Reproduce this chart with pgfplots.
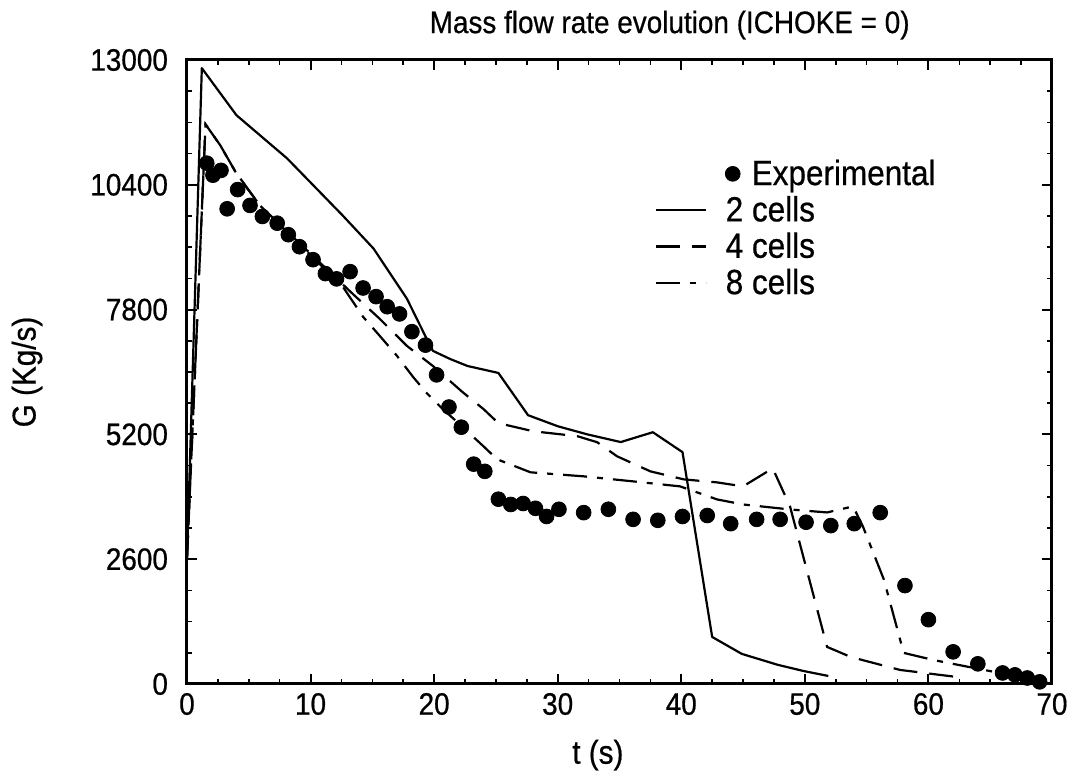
\documentclass[border=0pt]{standalone}
\usepackage{fontspec}
\setmainfont{Liberation Sans}[FakeStretch=0.9,FakeBold=0.6]
\usepackage{pgfplots}
\pgfplotsset{compat=1.18}
\begin{document}
\begin{tikzpicture}
\path (-93.5pt,-46pt) rectangle (444.5pt,342pt);
\begin{axis}[
  at={(0,0)}, anchor=south west,
  scale only axis, width=432.5pt, height=312pt,
  xmin=0, xmax=70, ymin=0, ymax=13000,
  xtick={0,10,...,70}, minor x tick num=3,
  ytick={0,2600,5200,7800,10400,13000},
  yticklabels={0,2600,5200,7800,10400,13000},
  scaled y ticks=false,
  minor y tick num=3,
  tick align=inside,
  major tick length=5pt, minor tick length=2.5pt,
  every tick/.style={line width=1pt,black},
  every minor tick/.style={line width=0.8pt,black},
  axis line style={line width=1.5pt},
  /pgf/number format/assume math mode=true,
  tick label style={font=\fontsize{15.5}{18}\selectfont},
  yticklabel style={xshift=-6pt},
  xticklabel style={yshift=-1pt},
  label style={font=\fontsize{16.5}{19}\selectfont},
  xlabel={t (s)},
  ylabel={G (Kg/s)},
  xlabel style={at={(axis description cs:0.475,-0.114)}, anchor=center},
  ylabel style={at={(axis description cs:-0.185,0.5)}, anchor=center},
  legend style={draw=none, fill=none, at={(axis cs:37.9,11015)}, anchor=north west,
    font=\fontsize{17.5}{19}\selectfont, inner sep=0pt, row sep=0pt,
    cells={anchor=west}},
  legend cell align=left,
  legend image code/.code={
    \path[draw=none] (0pt,0pt) -- (33pt,0pt);
    \draw[#1,overlay] (0pt,0pt) -- (25pt,0pt);
  },
  clip=false,
]
\addplot[only marks, mark=*, mark size=3.7pt, black,
  legend image code/.code={
    \path[draw=none] (0pt,0pt) -- (33pt,0pt);
    \fill[black,overlay] (38.5pt,0pt) circle (3.7pt);
  }] coordinates {
(1.6,10850)(2.1,10600)(2.75,10700)(3.25,9900)(4.1,10300)(5.1,9970)(6.1,9740)(7.3,9600)(8.2,9360)(9.1,9110)(10.2,8840)(11.2,8550)(12.1,8440)(13.2,8590)(14.25,8250)(15.3,8070)(16.2,7860)(17.2,7710)(18.2,7340)(19.3,7060)(20.2,6440)(21.2,5770)(22.2,5350)(23.2,4580)(24.1,4430)(25.2,3850)(26.2,3740)(27.2,3760)(28.2,3660)(29.1,3490)(30.1,3640)(32.1,3570)(34.1,3640)(36.1,3430)(38.1,3410)(40.1,3490)(42.1,3510)(44.0,3340)(46.1,3430)(48.0,3430)(50.1,3370)(52.1,3300)(54.0,3340)(56.1,3570)(58.1,2050)(60.0,1340)(62.0,670)(64.0,420)(66.0,230)(67.0,190)(68.0,125)(69.0,45)
};
\addlegendentry{\hspace*{13pt}Experimental}
\addplot[black, line width=1.1pt, line join=round] coordinates {
(0,2600)(1.2,12830)(4,11850)(8.1,10950)(12.6,9760)(15.1,9070)(17.8,8025)(19.4,7190)(19.9,6940)(21.3,6770)(22.7,6625)(25.2,6480)(27.6,5600)(30,5370)(32.4,5200)(35.1,5040)(37.7,5245)(40.1,4830)(42.5,980)(44.9,627)(47.8,400)(49.9,270)(51.9,167)
};
\addlegendentry{2 cells}
\addplot[black, line width=1.1pt, dash pattern=on 12pt off 6pt] coordinates {
(0,2600)(1.5,11660)(2.7,11220)(3.9,10680)(4.9,10320)(5.9,9970)(13.4,8130)(15.6,7607)(17.8,7043)(19.9,6625)(22.3,6081)(24,5726)(25.2,5434)(28,5266)(31.6,5162)(33.2,5036)(34.8,4744)(37.5,4430)(40.2,4263)(42.9,4200)(45,4117)(47.4,4493)(48.8,3700)(51.8,773)(53.7,564)(57.7,293)(62.3,146)
};
\addlegendentry{4 cells}
\addplot[black, line width=1.1pt, dash pattern=on 12pt off 5pt on 3pt off 5pt] coordinates {
(0,2600)(1.5,11660)(2.7,11220)(3.9,10680)(4.9,10320)(5.9,9970)(12.6,8280)(14.25,7649)(15.6,7252)(17,6834)(18.3,6395)(19.4,6061)(20.7,5726)(21.9,5450)(24,4950)(25.1,4681)(27.8,4410)(32.1,4326)(36.1,4221)(39.9,4117)(42.9,3845)(45,3740)(48.8,3636)(51.8,3574)(53.9,3700)(54.7,3281)(56.4,2173)(58,648)(60.4,500)(64.5,293)(65.8,230)
};
\addlegendentry{8 cells}
\node[anchor=center, font=\fontsize{15.5}{18}\selectfont] at (rel axis cs:0.558,1.056) {Mass flow rate evolution (ICHOKE = 0)};
\end{axis}
\end{tikzpicture}
\end{document}
